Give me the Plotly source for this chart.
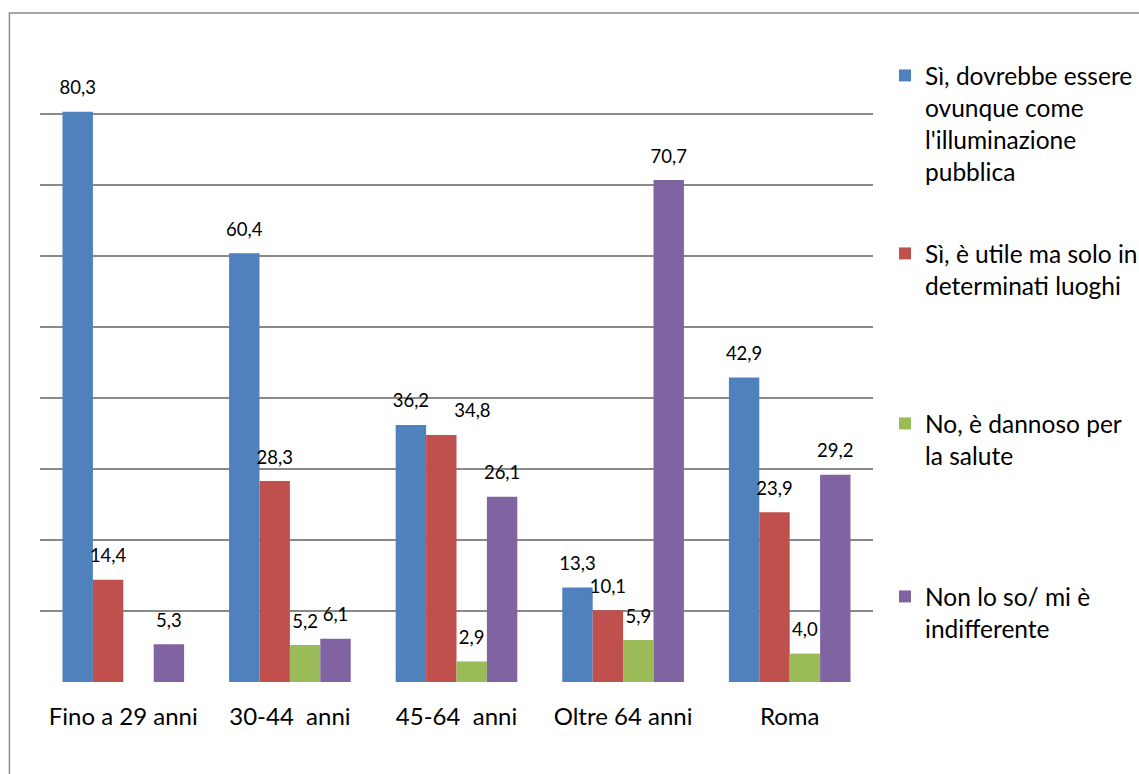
import plotly.graph_objects as go

categories = ["Fino a 29 anni", "30-44  anni", "45-64  anni", "Oltre 64 anni", "Roma"]

series_names = [
    "Sì, dovrebbe essere<br>ovunque come<br>l'illuminazione<br>pubblica",
    "Sì, è utile ma solo in<br>determinati luoghi",
    "No, è dannoso per<br>la salute",
    "Non lo so/ mi è<br>indifferente",
]

si_ovunque = [80.3, 60.4, 36.2, 13.3, 42.9]
si_luoghi = [14.4, 28.3, 34.8, 10.1, 23.9]
no_dannoso = [None, 5.2, 2.9, 5.9, 4.0]
non_so = [5.3, 6.1, 26.1, 70.7, 29.2]

colors = ["#4F81BD", "#C0504D", "#9BBB59", "#8064A2"]
values = [si_ovunque, si_luoghi, no_dannoso, non_so]

# label placement per point (one label nudged right so it clears its neighbour)
label_pos = [
    ["top center"] * 5,
    ["top center", "top center", "top right", "top center", "top center"],
    ["top center"] * 5,
    ["top center"] * 5,
]

FONT = "Lato, Carlito, Calibri, sans-serif"
W, H = 1139, 774
legend_tops = [53, 231, 401, 574]

fig = go.Figure()
legend_ids = ["legend", "legend2", "legend3", "legend4"]

for i, (name, vals, col) in enumerate(zip(series_names, values, colors)):
    fig.add_trace(go.Bar(
        x=categories, y=vals, name=name, marker_color=col,
        marker_line_width=0, legend=legend_ids[i], offsetgroup=str(i),
    ))

# value labels, placed above each bar
for i, vals in enumerate(values):
    fig.add_trace(go.Scatter(
        x=categories, y=vals, mode="markers+text",
        text=[None if v is None else f"{v:.1f}".replace(".", ",") for v in vals],
        textposition=label_pos[i],
        textfont=dict(family=FONT, size=18.5, color="#000000"),
        marker=dict(size=19, opacity=0),
        showlegend=False, hoverinfo="skip", cliponaxis=False,
        offsetgroup=str(i),
    ))

layout_legends = {}
for i, lid in enumerate(legend_ids):
    layout_legends[lid] = dict(
        x=885 / W, y=1 - legend_tops[i] / H, xref="container", yref="container",
        xanchor="left", yanchor="top", valign="top",
        font=dict(family=FONT, size=24.5, color="#000000"),
        bgcolor="rgba(0,0,0,0)", itemclick=False, itemdoubleclick=False,
    )

fig.update_layout(
    width=W, height=H,
    margin=dict(l=40, r=W - 884, t=43, b=H - 682),
    paper_bgcolor="white", plot_bgcolor="white",
    barmode="group", bargap=0.27, bargroupgap=0,
    scattermode="group", scattergap=0.27,
    font=dict(family=FONT, color="#000000"),
    showlegend=True,
    **layout_legends,
    shapes=[dict(
        type="rect", xref="paper", yref="paper",
        x0=(9 - 40) / 844, x1=1.6, y0=-0.5, y1=(682 - 13) / 639,
        line=dict(color="#8c8c8c", width=1.5), fillcolor="rgba(0,0,0,0)", layer="below",
    )],
)

fig.update_yaxes(
    range=[0, 90], dtick=10, showticklabels=False,
    showgrid=True, gridcolor="#898989", gridwidth=1.5,
    zeroline=False, showline=False,
)
fig.update_xaxes(
    showgrid=False, showline=False, ticks="",
    tickfont=dict(family=FONT, size=24, color="#000000"),
    ticklabelstandoff=18,
)

fig.write_html("out.html")
